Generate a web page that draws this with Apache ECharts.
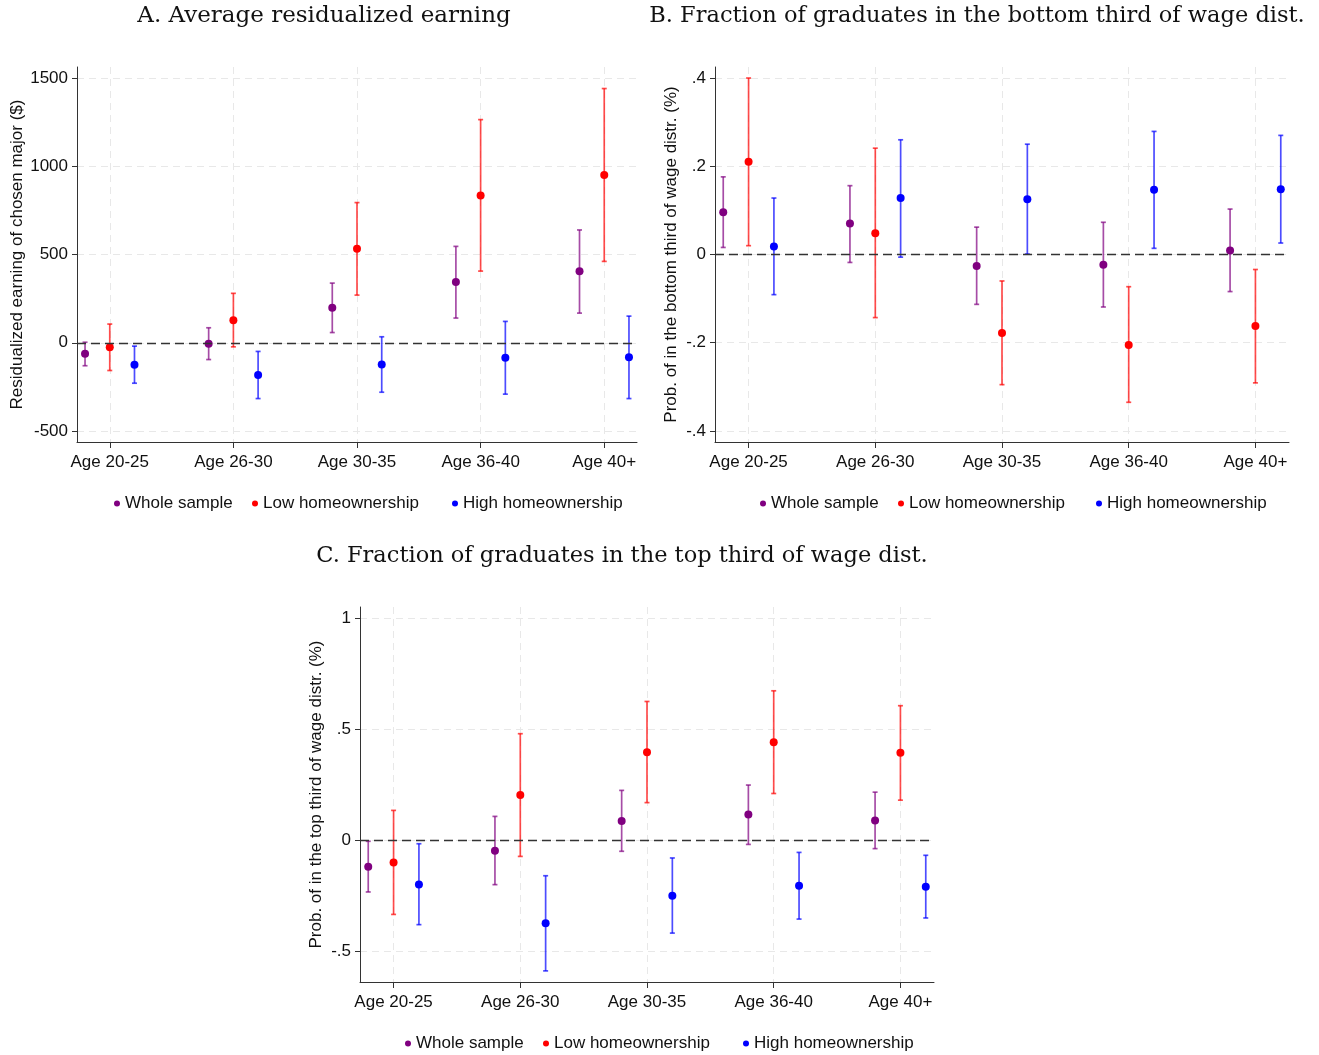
<!DOCTYPE html>
<html>
<head>
<meta charset="utf-8">
<script src="https://cdn.jsdelivr.net/npm/echarts@6/dist/echarts.min.js"></script>
<style>
  html, body { margin: 0; background: #fff; }
  #chart { width: 1319px; height: 1055px; }
</style>
</head>
<body>
<div id="chart"></div>
<script>
  // age groups on the x axis, series names for the legend
  var ageGroups = ['Age 20-25', 'Age 26-30', 'Age 30-35', 'Age 36-40', 'Age 40+'];
  var seriesNames = ['Whole sample', 'Low homeownership', 'High homeownership'];
  var seriesColors = ['#800080', '#ff0000', '#0000ff'];
  var offsets = [-0.2, 0, 0.2];

  // each row: [estimate, lower CI, upper CI]
  // A. residualized earning
  var aWhole = [[-62, -130, 3], [-6, -95, 85], [199, 58, 338], [344, 140, 546], [405, 168, 639]];
  var aLow = [[-25, -157, 106], [128, -23, 280], [533, 270, 794], [834, 406, 1264], [950, 461, 1440]];
  var aHigh = [[-125, -229, -19], [-182, -316, -49], [-123, -280, 34], [-85, -291, 121], [-82, -316, 151]];
  var aTicks = [-500, 0, 500, 1000, 1500];

  // B. bottom third of wage distribution
  var bWhole = [[0.096, 0.016, 0.176], [0.070, -0.018, 0.156], [-0.026, -0.113, 0.062], [-0.023, -0.119, 0.073], [0.009, -0.084, 0.103]];
  var bLow = [[0.210, 0.020, 0.400], [0.048, -0.143, 0.241], [-0.178, -0.295, -0.060], [-0.205, -0.335, -0.073], [-0.162, -0.291, -0.034]];
  var bHigh = [[0.018, -0.091, 0.128], [0.128, -0.006, 0.260], [0.125, 0.001, 0.250], [0.147, 0.014, 0.279], [0.148, 0.026, 0.270]];
  var bTicks = [-0.4, -0.2, 0, 0.2, 0.4];

  // C. top third of wage distribution
  var cWhole = [[-0.118, -0.232, -0.004], [-0.046, -0.199, 0.108], [0.087, -0.049, 0.225], [0.116, -0.018, 0.249], [0.090, -0.037, 0.217]];
  var cLow = [[-0.099, -0.333, 0.135], [0.204, -0.072, 0.480], [0.397, 0.170, 0.625], [0.442, 0.211, 0.673], [0.394, 0.181, 0.606]];
  var cHigh = [[-0.198, -0.379, -0.015], [-0.373, -0.587, -0.159], [-0.249, -0.417, -0.079], [-0.204, -0.354, -0.054], [-0.208, -0.349, -0.067]];
  var cTicks = [-0.5, 0, 0.5, 1];

  var sans = 'Liberation Sans, Arial, sans-serif';
  var serif = 'DejaVu Serif, serif';

  var panels = [
    { title: 'A. Average residualized earning', tx: 324, ty: 5, tsize: 23,
      grid: { left: 77, top: 67, width: 560, height: 375 },
      yMin: -562, yMax: 1562, ticks: aTicks, nameGap: 49,
      yName: 'Residualized earning of chosen major ($)',
      data: [aWhole, aLow, aHigh], legendX: [109, 247, 447], legendTop: 490 },
    { title: 'B. Fraction of graduates in the bottom third of wage dist.', tx: 977, ty: 5, tsize: 22.5,
      grid: { left: 715, top: 67, width: 574, height: 375 },
      yMin: -0.425, yMax: 0.425, ticks: bTicks, nameGap: 35,
      yName: 'Prob. of in the bottom third of wage distr. (%)',
      data: [bWhole, bLow, bHigh], legendX: [755, 893, 1091], legendTop: 490 },
    { title: 'C. Fraction of graduates in the top third of wage dist.', tx: 622, ty: 545, tsize: 22.5,
      grid: { left: 360, top: 607, width: 574, height: 375 },
      yMin: -0.637, yMax: 1.05, ticks: cTicks, nameGap: 35,
      yName: 'Prob. of in the top third of wage distr. (%)',
      data: [cWhole, cLow, cHigh], legendX: [400, 538, 738], legendTop: 1030 }
  ];

  function stataFmt(v) {
    return String(Math.round(v * 1000) / 1000).replace(/^(-?)0\./, '$1.');
  }

  function errRender(params, api) {
    var x = api.value(0);
    var lo = api.coord([x, api.value(1)]);
    var hi = api.coord([x, api.value(2)]);
    var col = api.visual('color');
    var st = { stroke: col, lineWidth: 1.7, opacity: 0.7 };
    return {
      type: 'group',
      children: [
        { type: 'line', shape: { x1: lo[0], y1: lo[1], x2: hi[0], y2: hi[1] }, style: st },
        { type: 'line', shape: { x1: hi[0] - 2.5, y1: hi[1], x2: hi[0] + 2.5, y2: hi[1] }, style: st },
        { type: 'line', shape: { x1: lo[0] - 2.5, y1: lo[1], x2: lo[0] + 2.5, y2: lo[1] }, style: st }
      ]
    };
  }

  var grids = [], xAxes = [], yAxes = [], series = [], legends = [], graphics = [];
  var catTicks = ageGroups.map(function (g, k) { return k + 1; });

  panels.forEach(function (p, i) {
    grids.push(p.grid);
    xAxes.push({
      type: 'value', gridIndex: i, min: 0.735, max: 5.265,
      axisLine: { show: true, onZero: false, lineStyle: { color: '#333' } },
      axisTick: { show: true, customValues: catTicks, length: 6, lineStyle: { color: '#333' } },
      axisLabel: {
        customValues: catTicks, margin: 12, fontSize: 17, color: '#111', fontFamily: sans,
        formatter: function (v) { return ageGroups[Math.round(v) - 1]; }
      },
      splitLine: { show: true, lineStyle: { color: '#e8e8e8', type: [7, 5] } }
    });
    yAxes.push({
      type: 'value', gridIndex: i, min: p.yMin, max: p.yMax,
      axisLine: { show: true, onZero: false, lineStyle: { color: '#333' } },
      axisTick: { show: true, customValues: p.ticks, length: 5, lineStyle: { color: '#333' } },
      axisLabel: { customValues: p.ticks, margin: 9, fontSize: 17, color: '#111', fontFamily: sans, formatter: stataFmt },
      splitLine: { show: true, lineStyle: { color: '#e8e8e8', type: [7, 5] } },
      name: p.yName, nameLocation: 'middle', nameGap: p.nameGap,
      nameTextStyle: { fontSize: 17, color: '#111', fontFamily: sans }
    });

    p.data.forEach(function (rows, j) {
      var bars = {
        name: seriesNames[j], type: 'custom', xAxisIndex: i, yAxisIndex: i,
        renderItem: errRender, encode: { x: 0, y: [1, 2] },
        itemStyle: { color: seriesColors[j] }, z: 2, silent: true,
        data: rows.map(function (d, k) { return [k + 1 + offsets[j], d[1], d[2]]; })
      };
      if (j === 0) {
        bars.markLine = {
          silent: true, symbol: 'none', label: { show: false },
          lineStyle: { color: '#333', type: [9, 5], width: 1.3 },
          data: [{ yAxis: 0 }]
        };
      }
      series.push(bars);
      series.push({
        name: seriesNames[j], type: 'scatter', xAxisIndex: i, yAxisIndex: i,
        symbolSize: 8, itemStyle: { color: seriesColors[j], opacity: 1 }, z: 3,
        data: rows.map(function (d, k) { return [k + 1 + offsets[j], d[0]]; })
      });

      // one legend per item so the spacing follows the reference
      legends.push({
        left: p.legendX[j], top: p.legendTop, itemWidth: 6, itemHeight: 6,
        data: [{ name: seriesNames[j], icon: 'circle' }],
        textStyle: { fontSize: 17, color: '#111', fontFamily: sans }
      });
    });

    graphics.push({
      type: 'text', x: p.tx, y: p.ty,
      style: { text: p.title, textAlign: 'center', font: p.tsize + 'px ' + serif, fill: '#111' }
    });
  });

  var myChart = echarts.init(document.getElementById('chart'));
  myChart.setOption({
    animation: false,
    grid: grids,
    xAxis: xAxes,
    yAxis: yAxes,
    legend: legends,
    graphic: graphics,
    series: series
  });
</script>
</body>
</html>
